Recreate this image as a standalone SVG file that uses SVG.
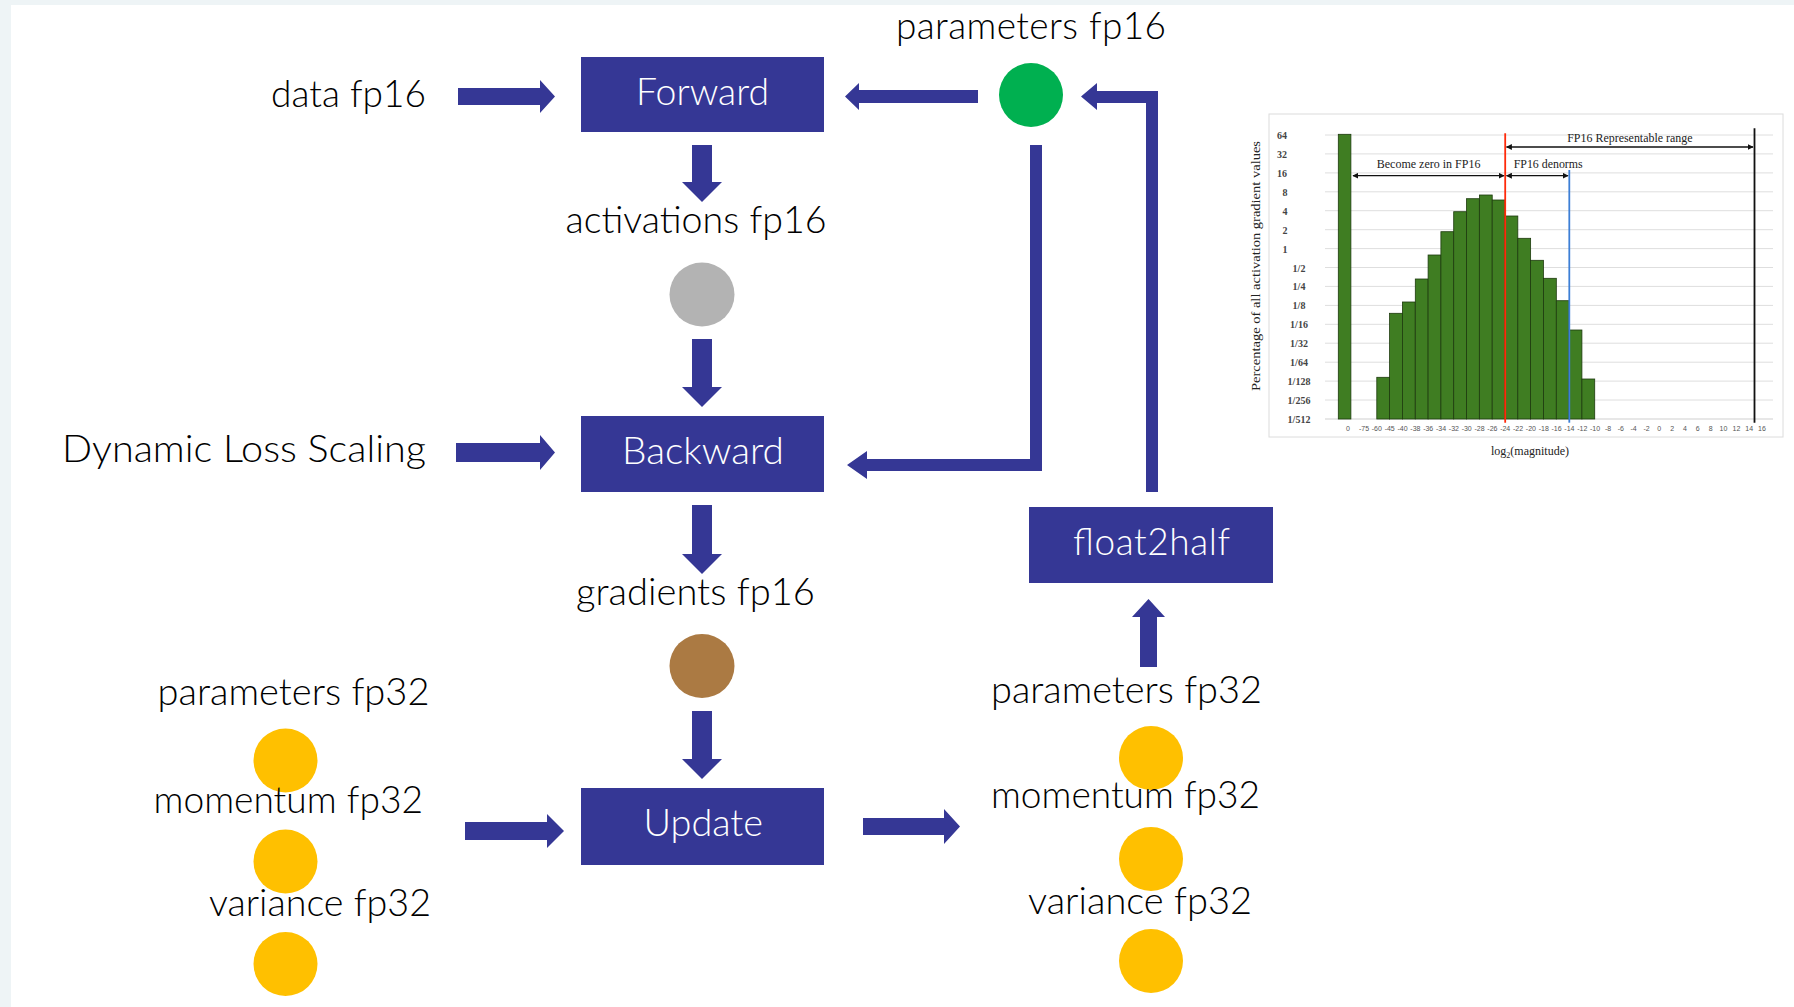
<svg xmlns="http://www.w3.org/2000/svg" width="1794" height="1007" viewBox="0 0 1794 1007">
  <defs>
    <style>
      .lbl { font-family: Lato, "Liberation Sans", Arial, sans-serif; font-weight: 300; font-size: 37px; fill: #000000; }
      .wide { font-family: Lato, "Liberation Sans", Arial, sans-serif; font-weight: 400; font-size: 35px; fill: #161616; }
      .btxt { font-family: Lato, "Liberation Sans", Arial, sans-serif; font-weight: 300; font-size: 37px; fill: #ffffff; }
      .box { fill: #353795; }
      .conn { fill: #353795; }
      .grid { stroke: #dedede; stroke-width: 1; }
      .bar { fill: #3f7d22; stroke: #1d3a0e; stroke-width: 0.8; }
      .ytick { font-family: "Liberation Serif", "Times New Roman", serif; font-size: 10px; font-weight: bold; fill: #444; text-anchor: middle; }
      .xtick { font-family: "Liberation Sans", Arial, sans-serif; font-size: 7px; fill: #555; text-anchor: middle; }
      .ctxt { font-family: "Liberation Serif", "Times New Roman", serif; font-size: 12px; fill: #222; }
    </style>
    <marker id="ah" viewBox="0 0 10 10" refX="9" refY="5" markerWidth="6" markerHeight="6" orient="auto-start-reverse" markerUnits="userSpaceOnUse">
      <path d="M0,0 L10,5 L0,10 z" fill="#111"/>
    </marker>
  </defs>

  <!-- page backdrop -->
  <rect x="0" y="0" width="1794" height="1007" fill="#eef4f6"/>
  <rect x="11" y="5" width="1783" height="1002" fill="#ffffff"/>

  <!-- connectors -->
  <g id="connectors">
    <!-- data fp16 -> Forward -->
    <polygon class="conn" points="458,88 540,88 540,80 555,96.5 540,113 540,105 458,105"/>
    <!-- Dynamic Loss Scaling -> Backward -->
    <polygon class="conn" points="456,443 540,443 540,435 555,452.5 540,470 540,462 456,462"/>
    <!-- parameters fp16 -> Forward -->
    <polygon class="conn" points="978,90 859,90 859,83 845,96.5 859,110 859,103 978,103"/>
    <!-- Forward -> activations -->
    <polygon class="conn" points="692,145 712,145 712,182 722,182 702,202 682,182 692,182"/>
    <!-- activations -> Backward -->
    <polygon class="conn" points="692,339 712,339 712,387 722,387 702,407 682,387 692,387"/>
    <!-- Backward -> gradients -->
    <polygon class="conn" points="692,505 712,505 712,554 722,554 702,574 682,554 692,554"/>
    <!-- gradients -> Update -->
    <polygon class="conn" points="692,711 712,711 712,759 722,759 702,779 682,759 692,759"/>
    <!-- fp32 state -> Update -->
    <polygon class="conn" points="465,822 547,822 547,814 564,831 547,848 547,840 465,840"/>
    <!-- Update -> fp32 state -->
    <polygon class="conn" points="863,818 944,818 944,809 960,826.5 944,844 944,835 863,835"/>
    <!-- parameters fp32 -> float2half -->
    <polygon class="conn" points="1140,667 1140,617 1132,617 1148.5,599 1165,617 1157,617 1157,667"/>
    <!-- parameters fp16 -> Backward (elbow) -->
    <polygon class="conn" points="1030,145 1042,145 1042,471 867,471 867,479 847,465 867,451 867,459 1030,459"/>
    <!-- float2half -> parameters fp16 (elbow) -->
    <polygon class="conn" points="1146,492 1146,103 1097,103 1097,110 1081,96.5 1097,83 1097,91 1158,91 1158,492"/>
  </g>

  <!-- process boxes -->
  <g id="forward">
    <rect class="box" x="581" y="57" width="243" height="75"/>
    <text class="btxt" x="636" y="105" textLength="133" lengthAdjust="spacingAndGlyphs">Forward</text>
  </g>
  <g id="backward">
    <rect class="box" x="581" y="416" width="243" height="76"/>
    <text class="btxt" x="622" y="464" textLength="162" lengthAdjust="spacingAndGlyphs">Backward</text>
  </g>
  <g id="update">
    <rect class="box" x="581" y="788" width="243" height="77"/>
    <text class="btxt" x="643.5" y="836" textLength="119.5" lengthAdjust="spacingAndGlyphs">Update</text>
  </g>
  <g id="float2half">
    <rect class="box" x="1029" y="507" width="244" height="76"/>
    <text class="btxt" x="1073" y="555" font-size="35" textLength="157" lengthAdjust="spacing">float2half</text>
  </g>

  <!-- inputs / tensors -->
  <g id="data-fp16">
    <text class="lbl" x="271" y="107" textLength="155" lengthAdjust="spacingAndGlyphs">data fp16</text>
  </g>
  <g id="dynamic-loss-scaling">
    <text class="lbl" x="62" y="462" textLength="364" lengthAdjust="spacingAndGlyphs">Dynamic Loss Scaling</text>
  </g>
  <g id="parameters-fp16">
    <text class="lbl" x="896" y="39" font-size="35" textLength="270" lengthAdjust="spacing">parameters fp16</text>
    <ellipse cx="1031" cy="95" rx="32" ry="32" fill="#00b050"/>
  </g>
  <g id="activations-fp16">
    <text class="lbl" x="565.5" y="233" textLength="261" lengthAdjust="spacingAndGlyphs">activations fp16</text>
    <ellipse cx="702" cy="294.5" rx="32.5" ry="32" fill="#b3b3b3"/>
  </g>
  <g id="gradients-fp16">
    <text class="lbl" x="576" y="605" textLength="239" lengthAdjust="spacingAndGlyphs">gradients fp16</text>
    <ellipse cx="702" cy="666" rx="32.5" ry="32" fill="#ab7a43"/>
  </g>

  <g id="state-fp32-in">
    <text class="lbl" x="157.5" y="705" textLength="272" lengthAdjust="spacingAndGlyphs">parameters fp32</text>
    <ellipse cx="285.5" cy="760.5" rx="32" ry="32" fill="#ffc000"/>
    <text class="lbl" x="153.5" y="813" textLength="269.5" lengthAdjust="spacingAndGlyphs">momentum fp32</text>
    <ellipse cx="285.5" cy="861.5" rx="32" ry="32" fill="#ffc000"/>
    <text class="lbl" x="209" y="916" textLength="222" lengthAdjust="spacingAndGlyphs">variance fp32</text>
    <ellipse cx="285.5" cy="964" rx="32" ry="32" fill="#ffc000"/>
  </g>
  <g id="state-fp32-out">
    <text class="lbl" x="991" y="703" textLength="271" lengthAdjust="spacingAndGlyphs">parameters fp32</text>
    <ellipse cx="1151" cy="758" rx="32" ry="32" fill="#ffc000"/>
    <text class="lbl" x="991" y="808" textLength="269" lengthAdjust="spacingAndGlyphs">momentum fp32</text>
    <ellipse cx="1151" cy="859" rx="32" ry="32" fill="#ffc000"/>
    <text class="lbl" x="1028" y="914" textLength="224" lengthAdjust="spacingAndGlyphs">variance fp32</text>
    <ellipse cx="1151" cy="961" rx="32" ry="32" fill="#ffc000"/>
  </g>

  <!-- gradient magnitude histogram -->
  <g id="histogram">
    <rect x="1269" y="114" width="514" height="323" fill="#ffffff" stroke="#dcdcdc" stroke-width="1"/>
    <g class="grid">
      <line x1="1325" y1="135" x2="1773" y2="135"/>
      <line x1="1325" y1="153.9" x2="1773" y2="153.9"/>
      <line x1="1325" y1="172.9" x2="1773" y2="172.9"/>
      <line x1="1325" y1="191.8" x2="1773" y2="191.8"/>
      <line x1="1325" y1="210.7" x2="1773" y2="210.7"/>
      <line x1="1325" y1="229.7" x2="1773" y2="229.7"/>
      <line x1="1325" y1="248.6" x2="1773" y2="248.6"/>
      <line x1="1325" y1="267.5" x2="1773" y2="267.5"/>
      <line x1="1325" y1="286.4" x2="1773" y2="286.4"/>
      <line x1="1325" y1="305.4" x2="1773" y2="305.4"/>
      <line x1="1325" y1="324.3" x2="1773" y2="324.3"/>
      <line x1="1325" y1="343.2" x2="1773" y2="343.2"/>
      <line x1="1325" y1="362.2" x2="1773" y2="362.2"/>
      <line x1="1325" y1="381.1" x2="1773" y2="381.1"/>
      <line x1="1325" y1="400" x2="1773" y2="400"/>
      <line x1="1325" y1="419" x2="1773" y2="419" stroke="#cfcfcf"/>
    </g>
    <g>
      <text class="ytick" x="1282" y="138.5">64</text>
      <text class="ytick" x="1282" y="157.5">32</text>
      <text class="ytick" x="1282" y="176.5">16</text>
      <text class="ytick" x="1285" y="195.5">8</text>
      <text class="ytick" x="1285" y="214.5">4</text>
      <text class="ytick" x="1285" y="233.5">2</text>
      <text class="ytick" x="1285" y="252.5">1</text>
      <text class="ytick" x="1299" y="271.5">1/2</text>
      <text class="ytick" x="1299" y="290">1/4</text>
      <text class="ytick" x="1299" y="309">1/8</text>
      <text class="ytick" x="1299" y="328">1/16</text>
      <text class="ytick" x="1299" y="347">1/32</text>
      <text class="ytick" x="1299" y="366">1/64</text>
      <text class="ytick" x="1299" y="385">1/128</text>
      <text class="ytick" x="1299" y="404">1/256</text>
      <text class="ytick" x="1299" y="423">1/512</text>
    </g>
    <text class="ctxt" transform="translate(1260,266) rotate(-90)" text-anchor="middle" font-size="13" textLength="250" lengthAdjust="spacingAndGlyphs">Percentage of all activation gradient values</text>

    <g>
      <rect class="bar" x="1338.3" y="134.3" width="12.6" height="284.7"/>
      <rect class="bar" x="1376.8" y="377.3" width="12.82" height="41.7"/>
      <rect class="bar" x="1389.6" y="313.3" width="12.82" height="105.7"/>
      <rect class="bar" x="1402.4" y="302" width="12.82" height="117"/>
      <rect class="bar" x="1415.3" y="279" width="12.82" height="140"/>
      <rect class="bar" x="1428.1" y="255" width="12.82" height="164"/>
      <rect class="bar" x="1440.9" y="231.7" width="12.82" height="187.3"/>
      <rect class="bar" x="1453.7" y="211.7" width="12.82" height="207.3"/>
      <rect class="bar" x="1466.5" y="198.7" width="12.82" height="220.3"/>
      <rect class="bar" x="1479.4" y="195" width="12.82" height="224"/>
      <rect class="bar" x="1492.2" y="200" width="12.82" height="219"/>
      <rect class="bar" x="1505.0" y="216" width="12.82" height="203"/>
      <rect class="bar" x="1517.8" y="238.3" width="12.82" height="180.7"/>
      <rect class="bar" x="1530.6" y="260.3" width="12.82" height="158.7"/>
      <rect class="bar" x="1543.5" y="278.3" width="12.82" height="140.7"/>
      <rect class="bar" x="1556.3" y="300.7" width="12.82" height="118.3"/>
      <rect class="bar" x="1569.1" y="330" width="12.82" height="89"/>
      <rect class="bar" x="1581.9" y="379" width="12.82" height="40"/>
    </g>

    <!-- range markers -->
    <line x1="1505.2" y1="133.3" x2="1505.2" y2="422.7" stroke="#ff2a0a" stroke-width="1.8"/>
    <line x1="1569.3" y1="170" x2="1569.3" y2="422.7" stroke="#3d7fd6" stroke-width="1.8"/>
    <line x1="1754.5" y1="128.3" x2="1754.5" y2="422.7" stroke="#111" stroke-width="1.8"/>

    <line x1="1353" y1="175.7" x2="1504" y2="175.7" stroke="#111" stroke-width="1.3" marker-start="url(#ah)" marker-end="url(#ah)"/>
    <line x1="1506.5" y1="175.7" x2="1568" y2="175.7" stroke="#111" stroke-width="1.3" marker-start="url(#ah)" marker-end="url(#ah)"/>
    <line x1="1506.5" y1="147" x2="1753" y2="147" stroke="#111" stroke-width="1.3" marker-start="url(#ah)" marker-end="url(#ah)"/>

    <text class="ctxt" x="1376.8" y="167.7" textLength="103.6" lengthAdjust="spacingAndGlyphs">Become zero in FP16</text>
    <text class="ctxt" x="1513.7" y="167.7" textLength="69" lengthAdjust="spacingAndGlyphs">FP16 denorms</text>
    <text class="ctxt" x="1567.2" y="141.7" textLength="125.4" lengthAdjust="spacingAndGlyphs">FP16 Representable range</text>

    <g>
      <text class="xtick" x="1347.9" y="431">0</text>
      <text class="xtick" x="1364.0" y="431">-75</text>
      <text class="xtick" x="1376.8" y="431">-60</text>
      <text class="xtick" x="1389.7" y="431">-45</text>
      <text class="xtick" x="1402.5" y="431">-40</text>
      <text class="xtick" x="1415.4" y="431">-38</text>
      <text class="xtick" x="1428.2" y="431">-36</text>
      <text class="xtick" x="1441.0" y="431">-34</text>
      <text class="xtick" x="1453.9" y="431">-32</text>
      <text class="xtick" x="1466.7" y="431">-30</text>
      <text class="xtick" x="1479.6" y="431">-28</text>
      <text class="xtick" x="1492.4" y="431">-26</text>
      <text class="xtick" x="1505.2" y="431">-24</text>
      <text class="xtick" x="1518.1" y="431">-22</text>
      <text class="xtick" x="1530.9" y="431">-20</text>
      <text class="xtick" x="1543.8" y="431">-18</text>
      <text class="xtick" x="1556.6" y="431">-16</text>
      <text class="xtick" x="1569.4" y="431">-14</text>
      <text class="xtick" x="1582.3" y="431">-12</text>
      <text class="xtick" x="1595.1" y="431">-10</text>
      <text class="xtick" x="1608.0" y="431">-8</text>
      <text class="xtick" x="1620.8" y="431">-6</text>
      <text class="xtick" x="1633.6" y="431">-4</text>
      <text class="xtick" x="1646.5" y="431">-2</text>
      <text class="xtick" x="1659.3" y="431">0</text>
      <text class="xtick" x="1672.2" y="431">2</text>
      <text class="xtick" x="1685.0" y="431">4</text>
      <text class="xtick" x="1697.8" y="431">6</text>
      <text class="xtick" x="1710.7" y="431">8</text>
      <text class="xtick" x="1723.5" y="431">10</text>
      <text class="xtick" x="1736.4" y="431">12</text>
      <text class="xtick" x="1749.2" y="431">14</text>
      <text class="xtick" x="1762.0" y="431">16</text>
    </g>
    <text class="ctxt" x="1530" y="455" text-anchor="middle" font-size="12.5">log<tspan font-size="8" dy="3">2</tspan><tspan dy="-3">(magnitude)</tspan></text>
  </g>
</svg>
